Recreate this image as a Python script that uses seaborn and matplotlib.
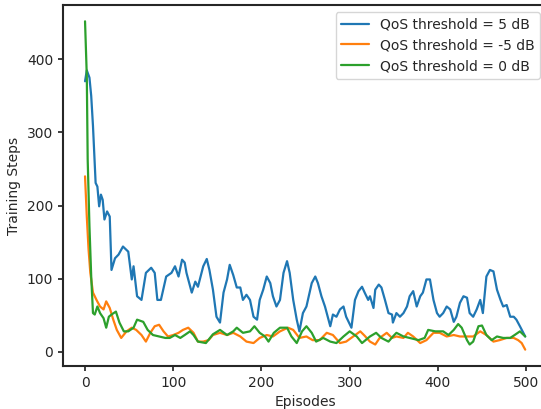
import matplotlib
matplotlib.use("Agg")
import matplotlib.pyplot as plt
import seaborn as sns

# QoS threshold = 5 dB
ep_5db = [0, 2, 5, 7, 9, 12, 14, 16, 18, 20, 22, 25, 28, 30, 34, 38, 43, 49, 53, 55,
          59, 64, 69, 75, 79, 82, 86, 92, 98, 102, 106, 110, 113, 115, 121, 125, 128,
          132, 134, 138, 141, 145, 149, 153, 157, 161, 164, 168, 172, 176, 179, 183,
          187, 191, 195, 198, 202, 206, 210, 213, 217, 221, 225, 229, 232, 236, 240,
          243, 247, 251, 257, 261, 264, 268, 272, 278, 281, 285, 289, 293, 296, 302,
          306, 310, 314, 317, 321, 323, 327, 329, 333, 336, 340, 344, 348, 349, 353,
          357, 361, 365, 368, 372, 376, 380, 383, 387, 391, 395, 399, 402, 406, 410,
          414, 418, 421, 425, 429, 433, 436, 440, 444, 448, 451, 455, 459, 463, 467,
          471, 474, 478, 482, 486, 489, 493, 499]
steps_5db = [370, 385, 375, 350, 309, 231, 226, 199, 215, 208, 181, 192, 185, 112, 128,
             133, 144, 137, 99, 117, 76, 71, 108, 115, 108, 71, 71, 103, 108, 117, 103,
             126, 122, 108, 81, 96, 89, 108, 117, 127, 112, 85, 48, 40, 81, 99, 119, 105,
             88, 88, 71, 78, 71, 48, 44, 71, 85, 103, 94, 76, 62, 71, 108, 124, 108, 71,
             44, 28, 53, 62, 94, 103, 94, 76, 62, 35, 51, 48, 58, 62, 48, 33, 71, 83, 89,
             81, 71, 76, 60, 85, 92, 88, 71, 53, 51, 40, 53, 48, 53, 62, 76, 83, 62, 76,
             81, 99, 99, 71, 53, 48, 53, 62, 58, 41, 48, 67, 76, 74, 53, 48, 58, 71, 53,
             103, 112, 110, 85, 71, 62, 64, 48, 48, 44, 35, 21]

# QoS threshold = -5 dB
ep_m5db = [0, 2, 4, 6, 9, 13, 17, 21, 24, 28, 32, 36, 41, 47, 53, 58, 64, 69, 74, 79,
           84, 89, 94, 100, 106, 111, 117, 123, 128, 134, 140, 145, 153, 161, 168, 176,
           183, 191, 198, 206, 213, 221, 230, 236, 243, 251, 258, 266, 274, 281, 289,
           296, 304, 312, 317, 323, 329, 334, 342, 348, 353, 361, 366, 372, 380, 387,
           395, 402, 410, 418, 425, 433, 440, 448, 455, 463, 470, 478, 486, 491, 495, 499]
steps_m5db = [240, 185, 140, 108, 81, 71, 62, 58, 69, 60, 44, 30, 19, 28, 33, 30, 23, 14,
              26, 35, 37, 28, 21, 23, 26, 30, 33, 26, 14, 14, 16, 23, 26, 23, 26, 21, 14,
              12, 19, 23, 21, 28, 33, 30, 19, 21, 16, 16, 26, 23, 12, 14, 21, 28, 22, 14,
              10, 19, 26, 19, 21, 19, 26, 21, 12, 16, 26, 26, 21, 23, 21, 21, 21, 28, 23,
              14, 16, 19, 19, 16, 12, 3]

# QoS threshold = 0 dB
ep_0db = [0, 2, 3, 5, 7, 9, 11, 14, 17, 21, 24, 27, 30, 35, 39, 44, 49, 55, 59, 66, 71,
          77, 84, 91, 96, 102, 108, 113, 119, 123, 128, 137, 145, 153, 161, 168, 172,
          179, 187, 192, 198, 204, 208, 214, 221, 229, 234, 240, 246, 251, 257, 262,
          270, 278, 285, 293, 300, 308, 314, 319, 323, 330, 336, 344, 349, 353, 361,
          368, 378, 385, 389, 397, 406, 412, 418, 423, 427, 433, 436, 440, 446, 450,
          455, 461, 467, 474, 482, 487, 493, 499]
steps_0db = [452, 377, 263, 172, 103, 53, 51, 62, 53, 46, 33, 48, 51, 55, 40, 28, 28, 33,
             44, 41, 30, 23, 21, 19, 19, 23, 19, 23, 28, 23, 14, 12, 24, 30, 23, 28, 33,
             26, 28, 35, 26, 21, 14, 26, 33, 33, 21, 12, 28, 35, 26, 14, 19, 14, 12, 21,
             28, 21, 12, 17, 21, 26, 19, 14, 21, 26, 21, 19, 16, 19, 30, 28, 28, 23, 30,
             38, 33, 16, 10, 14, 35, 36, 23, 16, 21, 19, 19, 23, 28, 21]

sns.set_style("ticks")
plt.rcParams["font.family"] = ["DejaVu Sans"]
plt.rcParams["axes.linewidth"] = 1.5

fig = plt.figure(figsize=(5.41, 4.09), dpi=100)
ax = fig.add_axes([0.1165, 0.105, 0.895, 0.883])

pal = sns.color_palette("tab10")
sns.lineplot(x=ep_5db, y=steps_5db, color=pal[0], linewidth=1.6,
             label="QoS threshold = 5 dB", ax=ax)
sns.lineplot(x=ep_m5db, y=steps_m5db, color=pal[1], linewidth=1.6,
             label="QoS threshold = -5 dB", ax=ax)
sns.lineplot(x=ep_0db, y=steps_0db, color=pal[2], linewidth=1.6,
             label="QoS threshold = 0 dB", ax=ax)

ax.set_xlabel("Episodes")
ax.set_ylabel("Training Steps")
ax.set_xticks([0, 100, 200, 300, 400, 500])
ax.set_yticks([0, 100, 200, 300, 400])
ax.tick_params(length=3.5, width=1.25, labelsize=10)
ax.legend(loc="upper right", fontsize=10)

fig.savefig("out.png", dpi=100)
